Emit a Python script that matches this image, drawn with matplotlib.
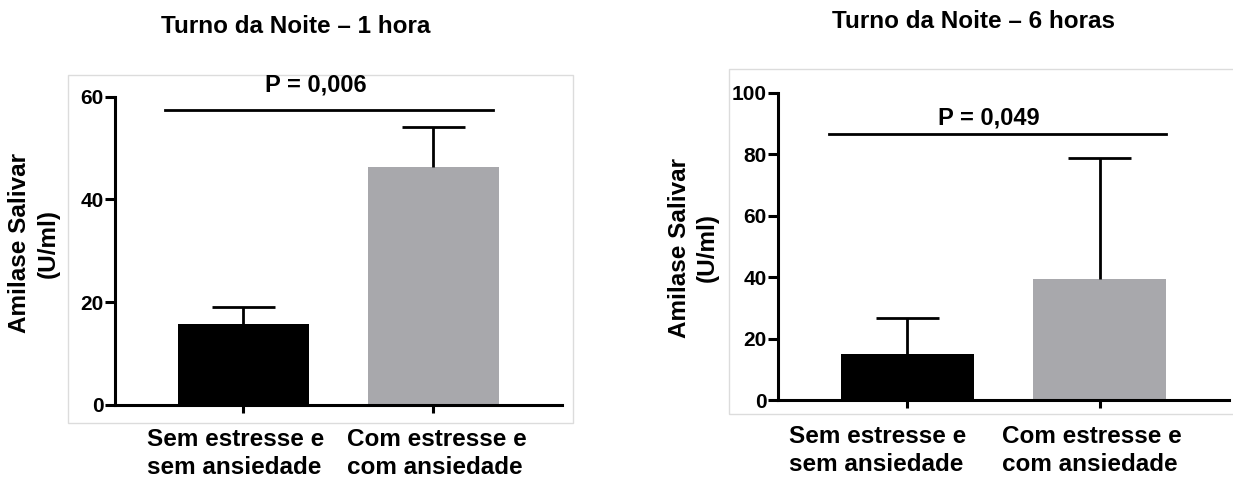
import matplotlib.pyplot as plt
from matplotlib.patches import Rectangle
from matplotlib.transforms import blended_transform_factory

plt.rcParams['font.family'] = ['Liberation Sans', 'DejaVu Sans']
plt.rcParams['font.weight'] = 'bold'

# data
groups = ['Sem estresse e\nsem ansiedade', 'Com estresse e\ncom ansiedade']
colors = ['#000000', '#a8a8ac']

means_1h = [15.8, 46.4]
err_1h = [3.3, 7.7]
p_1h = 'P = 0,006'
yticks_1h = [0, 20, 40, 60]

means_6h = [15.0, 39.3]
err_6h = [11.6, 39.5]
p_6h = 'P = 0,049'
yticks_6h = [0, 20, 40, 60, 80, 100]

W, H = 1233, 479
fig = plt.figure(figsize=(W / 100, H / 100), dpi=100)


def px_rect(x0, y0, x1, y1):
    # pixel box (top-left origin) -> figure fraction
    return [x0 / W, 1 - y1 / H, (x1 - x0) / W, (y1 - y0) / H]


def frame(x0, y0, x1, y1):
    fig.patches.append(Rectangle((x0 / W, 1 - y1 / H), (x1 - x0) / W, (y1 - y0) / H,
                                 transform=fig.transFigure, fill=False,
                                 ec='#dcdcdc', lw=1, zorder=-5))


def panel(rect, means, errs, yticks, ptxt, pline, ppos, lab_dx, lab_y):
    ax = fig.add_axes(rect)
    x = [0, 1]
    ax.bar(x, means, width=0.69, color=colors, zorder=2)
    tops = [m + e for m, e in zip(means, errs)]
    ax.vlines(x, means, tops, color='black', lw=2, zorder=3)
    ax.hlines(tops, [i - 0.165 for i in x], [i + 0.165 for i in x],
              color='black', lw=2, zorder=3)
    ax.set_xlim(-0.674, 1.674)
    ax.set_ylim(yticks[0], yticks[-1])
    ax.set_yticks(yticks)
    ax.set_xticks(x)
    ax.set_xticklabels([])
    ax.tick_params(axis='y', labelsize=15, width=2.2, length=7, pad=1)
    ax.tick_params(axis='x', width=2.2, length=6)
    for s in ['top', 'right']:
        ax.spines[s].set_visible(False)
    for s in ['left', 'bottom']:
        ax.spines[s].set_linewidth(2.2)
    # group labels, left aligned like the original
    tr = blended_transform_factory(ax.transData, ax.transAxes)
    for i, g in enumerate(groups):
        ax.text(x[i] + lab_dx[i], lab_y, g, transform=tr, ha='left', va='top',
                multialignment='left', fontsize=17.5, fontweight='bold',
                linespacing=1.28)
    # significance bar
    xa, xb, yl = pline
    ax.plot([xa, xb], [yl, yl], color='black', lw=2, clip_on=False)
    ax.text(ppos[0], ppos[1], ptxt, ha='center', va='baseline', fontsize=17,
            fontweight='bold', clip_on=False)
    return ax


frame(68.3, 75, 572.9, 423)
frame(729.3, 69.3, 1240, 414)

panel(px_rect(115, 96.7, 561.6, 405), means_1h, err_1h, yticks_1h, p_1h,
      (-0.412, 1.314, 57.4), (0.383, 61.1), (-0.507, -0.456), -0.0746)
panel(px_rect(778, 92.7, 1229, 400), means_6h, err_6h, yticks_6h, p_6h,
      (-0.407, 1.344, 86.5), (0.426, 89.5), (-0.619, -0.507), -0.081)

fig.text(296 / W, 1 - 33.3 / H, 'Turno da Noite \u2013 1 hora', ha='center', va='baseline',
         fontsize=17.5, fontweight='bold')
fig.text(973.5 / W, 1 - 28.3 / H, 'Turno da Noite \u2013 6 horas', ha='center', va='baseline',
         fontsize=17.5, fontweight='bold')

for cx, cy in [(34, 243), (693.5, 247.5)]:
    fig.text(cx / W, 1 - cy / H, 'Amilase Salivar\n(U/ml)', rotation=90, ha='center',
             va='center', multialignment='center', fontsize=17.5, fontweight='bold',
             linespacing=1.28)

fig.savefig('out.png', dpi=100)
